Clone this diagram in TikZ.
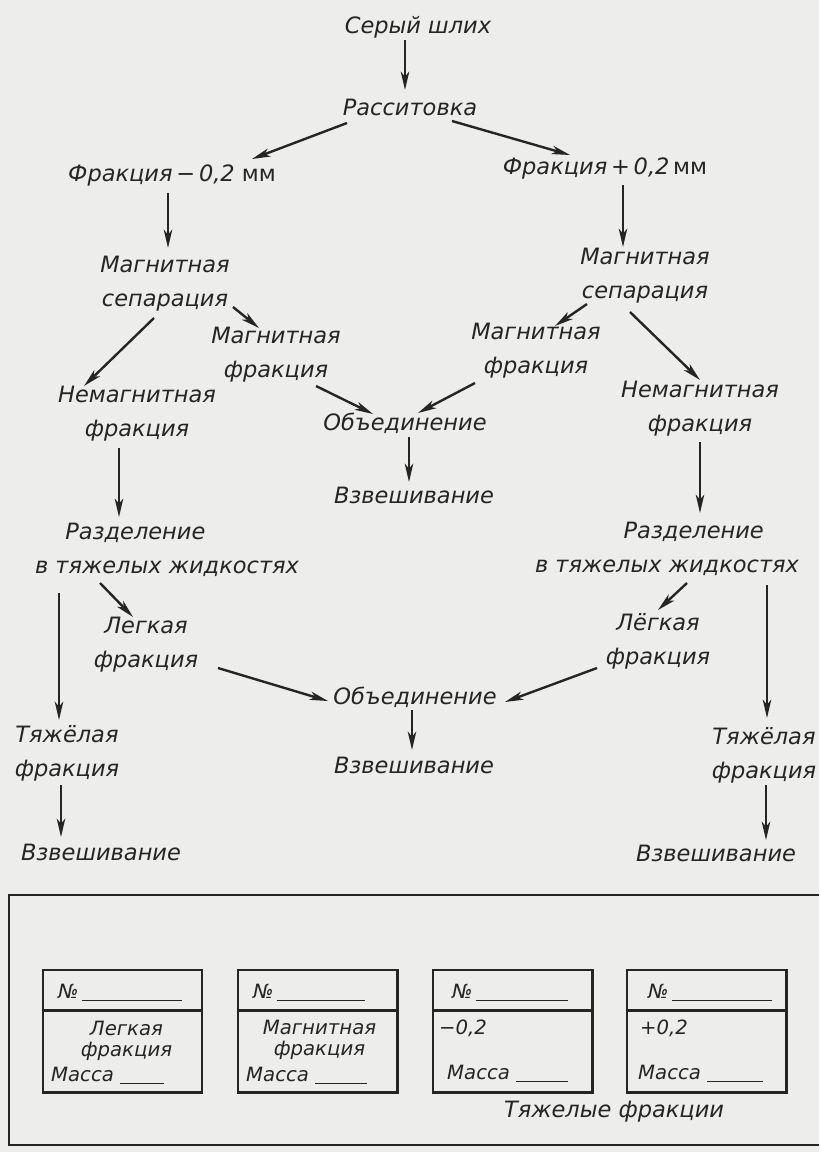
\documentclass[tikz,border=0pt]{standalone}
\usepackage{fontspec}
\setmainfont{DejaVu Sans}
\usepackage{tikz}
\usetikzlibrary{arrows.meta, positioning, calc}
\definecolor{ink}{HTML}{252525}
\definecolor{paper}{HTML}{EDEDEB}
\tikzstyle{stage}=[align=center, inner sep=2pt, font=\itshape\fontsize{16pt}{24pt}\selectfont]
\tikzstyle{cardtext}=[align=center, inner sep=1pt, font=\itshape\fontsize{14pt}{15pt}\selectfont]
\tikzstyle{card}=[rectangle, draw, line width=2.1pt, minimum width=3.975cm, minimum height=3.05cm]
\tikzstyle{cardline}=[line width=2.1pt]
\tikzstyle{arrow}=[line width=1.7pt, -{Stealth[length=13pt, width=6pt, inset=3.5pt]}]

\begin{document}
\begin{tikzpicture}[x=0.025cm, y=-0.025cm, color=ink]
    \fill[paper] (0,0) rectangle (819,1152);

    % flow sheet
    \node[stage] (seryi) at (418,27) {Серый шлих};
    \node[stage] (rass) at (410,107) {Расситовка};
    \node[stage] (fm) at (172,175) {Фракция\,−\,0,2 {\upshape мм}};
    \node[stage] (fp) at (605,168) {Фракция\,+\,0,2\,{\upshape мм}};
    \node[stage] (msl) at (165,284) {Магнитная\\сепарация};
    \node[stage] (msr) at (645,276) {Магнитная\\сепарация};
    \node[stage] (mfl) at (276,355) {Магнитная\\фракция};
    \node[stage] (mfr) at (536,351) {Магнитная\\фракция};
    \node[stage] (nfl) at (137,414) {Немагнитная\\фракция};
    \node[stage] (nfr) at (700,409) {Немагнитная\\фракция};
    \node[stage] (ob1) at (405,423) {Объединение};
    \node[stage] (vz1) at (414,495) {Взвешивание};
    \node[stage] (rzl) at (167,550) {Разделение\hspace*{45pt}\\в тяжелых жидкостях};
    \node[stage] (rzr) at (667,549) {\hspace*{38pt}Разделение\\в тяжелых жидкостях};
    \node[stage] (llf) at (146,645) {Легкая\\фракция};
    \node[stage] (lrf) at (658,641) {Лёгкая\\фракция};
    \node[stage] (ob2) at (415,697) {Объединение};
    \node[stage] (vz2) at (414,765) {Взвешивание};
    \node[stage] (tl) at (67,753) {Тяжёлая\\фракция};
    \node[stage] (tr) at (764,755) {Тяжёлая\\фракция};
    \node[stage] (vzl) at (101,852) {Взвешивание};
    \node[stage] (vzr) at (716,853) {Взвешивание};

    \draw[arrow] ($(seryi)+(-13,13)$) -- ($(rass)+(-5,-17)$);
    \draw[arrow] ($(rass)+(-63,16)$) -- ($(fm)+(80,-16)$);
    \draw[arrow] ($(rass)+(42,14)$) -- ($(fp)+(-35,-13)$);
    \draw[arrow] ($(fm)+(-4,18)$) -- ($(msl)+(3,-36)$);
    \draw[arrow] ($(fp)+(18,17)$) -- ($(msr)+(-22,-29)$);
    \draw[arrow] ($(msl)+(-11,34)$) -- ($(nfl)+(-53,-28)$);
    \draw[arrow] ($(msl)+(68,23)$) -- ($(mfl)+(-17,-27)$);
    \draw[arrow] ($(msr)+(-58,28)$) -- ($(mfr)+(19,-25)$);
    \draw[arrow] ($(msr)+(-15,36)$) -- ($(nfr)+(0,-29)$);
    \draw[arrow] ($(mfl)+(40,31)$) -- ($(ob1)+(-32,-9)$);
    \draw[arrow] ($(mfr)+(-61,32)$) -- ($(ob1)+(13,-10)$);
    \draw[arrow] ($(ob1)+(4,14)$) -- ($(vz1)+(-5,-13)$);
    \draw[arrow] ($(nfl)+(-18,34)$) -- ($(rzl)+(-48,-33)$);
    \draw[arrow] ($(nfr)+(0,33)$) -- ($(rzr)+(33,-36)$);
    \draw[arrow] ($(rzl)+(-108,43)$) -- ($(tl)+(-8,-33)$);
    \draw[arrow] ($(rzl)+(-67,33)$) -- ($(llf)+(-13,-28)$);
    \draw[arrow] ($(rzr)+(20,34)$) -- ($(lrf)+(0,-31)$);
    \draw[arrow] ($(rzr)+(100,36)$) -- ($(tr)+(3,-37)$);
    \draw[arrow] ($(llf)+(72,23)$) -- ($(ob2)+(-87,4)$);
    \draw[arrow] ($(lrf)+(-61,27)$) -- ($(ob2)+(90,5)$);
    \draw[arrow] ($(ob2)+(-3,13)$) -- ($(vz2)+(-2,-15)$);
    \draw[arrow] ($(tl)+(-6,32)$) -- ($(vzl)+(-40,-15)$);
    \draw[arrow] ($(tr)+(2,30)$) -- ($(vzr)+(50,-13)$);

    % label cards
    \draw[cardline] (819,895) -- (9,895) -- (9,1145) -- (819,1145);
    \node[card] (c1) at (122.5,1031) {};
    \node[card] (c2) at (317.5,1031) {};
    \node[card] (c3) at (512.5,1031) {};
    \node[card] (c4) at (706.5,1031) {};
    \draw[cardline] ($(c1.north west)+(0,42)$) -- ($(c1.north east)+(0,42)$);
    \draw[cardline] ($(c2.north west)+(0,42)$) -- ($(c2.north east)+(0,42)$);
    \draw[cardline] ($(c3.north west)+(0,42)$) -- ($(c3.north east)+(0,42)$);
    \draw[cardline] ($(c4.north west)+(0,42)$) -- ($(c4.north east)+(0,42)$);

    \node[cardtext, anchor=west] (no1) at ($(c1.north west)+(15,24)$) {№\,\rule[-1.5pt]{2.5cm}{0.6pt}};
    \node[cardtext] (t1) at ($(c1)+(4,10)$) {Легкая\\фракция};
    \node[cardtext, anchor=west] (m1) at ($(c1.south west)+(8,-18)$) {Масса \rule[-1.5pt]{1.1cm}{0.6pt}};

    \node[cardtext, anchor=west] (no2) at ($(c2.north west)+(15,24)$) {№\,\rule[-1.5pt]{2.2cm}{0.6pt}};
    \node[cardtext] (t2) at ($(c2)+(2,9)$) {Магнитная\\фракция};
    \node[cardtext, anchor=west] (m2) at ($(c2.south west)+(8,-18)$) {Масса \rule[-1.5pt]{1.3cm}{0.6pt}};

    \node[cardtext, anchor=west] (no3) at ($(c3.north west)+(19,24)$) {№\,\rule[-1.5pt]{2.3cm}{0.6pt}};
    \node[cardtext, anchor=west] (t3) at ($(c3.north west)+(6,60)$) {−0,2};
    \node[cardtext, anchor=west] (m3) at ($(c3.south west)+(14,-20)$) {Масса \rule[-1.5pt]{1.3cm}{0.6pt}};

    \node[cardtext, anchor=west] (no4) at ($(c4.north west)+(21,24)$) {№\,\rule[-1.5pt]{2.5cm}{0.6pt}};
    \node[cardtext, anchor=west] (t4) at ($(c4.north west)+(13,60)$) {+0,2};
    \node[cardtext, anchor=west] (m4) at ($(c4.south west)+(11,-20)$) {Масса \rule[-1.5pt]{1.4cm}{0.6pt}};

    \node[stage] (tf) at (614,1112) {Тяжелые фракции};
\end{tikzpicture}
\end{document}
